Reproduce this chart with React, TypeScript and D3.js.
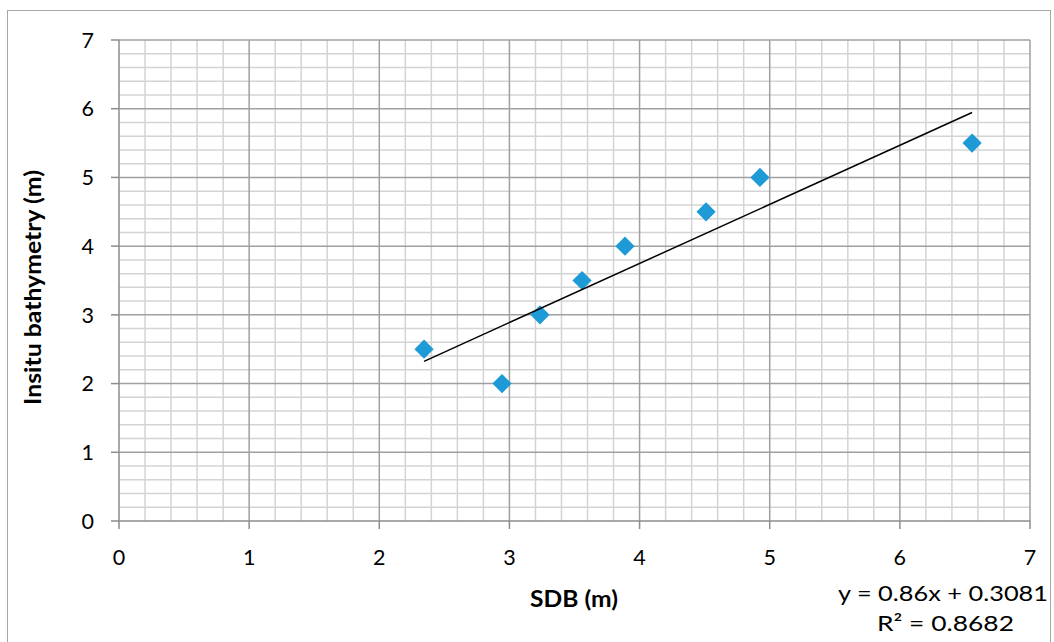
import React from "react";
import * as d3 from "d3";

const sdb = [2.344, 2.943, 3.235, 3.558, 3.888, 4.511, 4.925, 6.555];
const insitu = [2.5, 2.0, 3.0, 3.5, 4.0, 4.5, 5.0, 5.5];
const xTicks = [0, 1, 2, 3, 4, 5, 6, 7];
const yTicks = [0, 1, 2, 3, 4, 5, 6, 7];
const slope = 0.86;
const intercept = 0.3081;
const eqText = "y = 0.86x + 0.3081";
const r2Text = "R² = 0.8682";

export default function App() {
  const W = 1054, H = 642;
  const left = 119, right = 1030, top = 40, bottom = 521;
  const x = d3.scaleLinear().domain([0, 7]).range([left, right]);
  const y = d3.scaleLinear().domain([0, 7]).range([bottom, top]);
  const minor = d3.range(0, 7.0001, 0.2).filter((v) => Math.abs(v - Math.round(v)) > 1e-6);
  const font = "Lato, 'Open Sans', sans-serif";
  const x0 = d3.min(sdb)!, x1 = d3.max(sdb)!;
  const line = d3.line<number>().x((v) => x(v)).y((v) => y(slope * v + intercept));
  const diamond = d3.symbol().type(d3.symbolSquare).size(185)();
  return (
    <svg width={W} height={H} style={{ position: "absolute", left: 0, top: 0, background: "#fff" }}>
      <rect x={7.5} y={10.5} width={1043} height={H} fill="#fff" stroke="#a6a6a6" strokeWidth={1} />
      {minor.map((v) => (
        <line key={"mx" + v} x1={x(v)} x2={x(v)} y1={top} y2={bottom} stroke="#d4d4d4" strokeWidth={1.5} />
      ))}
      {minor.map((v) => (
        <line key={"my" + v} x1={left} x2={right} y1={y(v)} y2={y(v)} stroke="#d4d4d4" strokeWidth={1.5} />
      ))}
      {xTicks.slice(1).map((v) => (
        <line key={"gx" + v} x1={x(v)} x2={x(v)} y1={top} y2={bottom} stroke="#a0a0a0" strokeWidth={1.5} />
      ))}
      {yTicks.slice(1).map((v) => (
        <line key={"gy" + v} x1={left} x2={right} y1={y(v)} y2={y(v)} stroke="#a0a0a0" strokeWidth={1.5} />
      ))}
      <line x1={left} x2={left} y1={top} y2={bottom} stroke="#8c8c8c" strokeWidth={1.5} />
      <line x1={left} x2={right} y1={bottom} y2={bottom} stroke="#8c8c8c" strokeWidth={1.5} />
      {yTicks.map((v) => (
        <g key={"yt" + v}>
          <line x1={left - 8} x2={left} y1={y(v)} y2={y(v)} stroke="#8c8c8c" strokeWidth={1.5} />
          <text x={left - 25} y={y(v)} dy="0.36em" textAnchor="end" fontFamily={font} fontSize={21.5} fill="#000">
            {v}
          </text>
        </g>
      ))}
      {xTicks.map((v) => (
        <g key={"xt" + v}>
          <line x1={x(v)} x2={x(v)} y1={bottom} y2={bottom + 8} stroke="#8c8c8c" strokeWidth={1.5} />
          <text x={x(v)} y={bottom + 36} dy="0.36em" textAnchor="middle" fontFamily={font} fontSize={21.5} fill="#000">
            {v}
          </text>
        </g>
      ))}
      {sdb.map((v, i) => (
        <path key={"p" + i} d={diamond} transform={`translate(${x(v)},${y(insitu[i])}) rotate(45)`} fill="#1e9ad6" />
      ))}
      <path d={line([x0, x1]) || ""} fill="none" stroke="#000" strokeWidth={1.5} />
      <text x={530} y={599} dy="0.36em" textLength={88} lengthAdjust="spacingAndGlyphs" fontFamily={font} fontSize={22} fontWeight="bold" fill="#000">
        SDB (m)
      </text>
      <text transform={`translate(33,405) rotate(-90)`} dy="0.36em" textLength={235} lengthAdjust="spacingAndGlyphs" fontFamily={font} fontSize={22} fontWeight="bold" fill="#000">
        Insitu bathymetry (m)
      </text>
      <text x={838} y={593} dy="0.36em" textLength={210} lengthAdjust="spacingAndGlyphs" fontFamily={font} fontSize={21.5} fill="#000">
        {eqText}
      </text>
      <text x={877} y={623} dy="0.36em" textLength={137} lengthAdjust="spacingAndGlyphs" fontFamily={font} fontSize={21.5} fill="#000">
        {r2Text}
      </text>
    </svg>
  );
}
